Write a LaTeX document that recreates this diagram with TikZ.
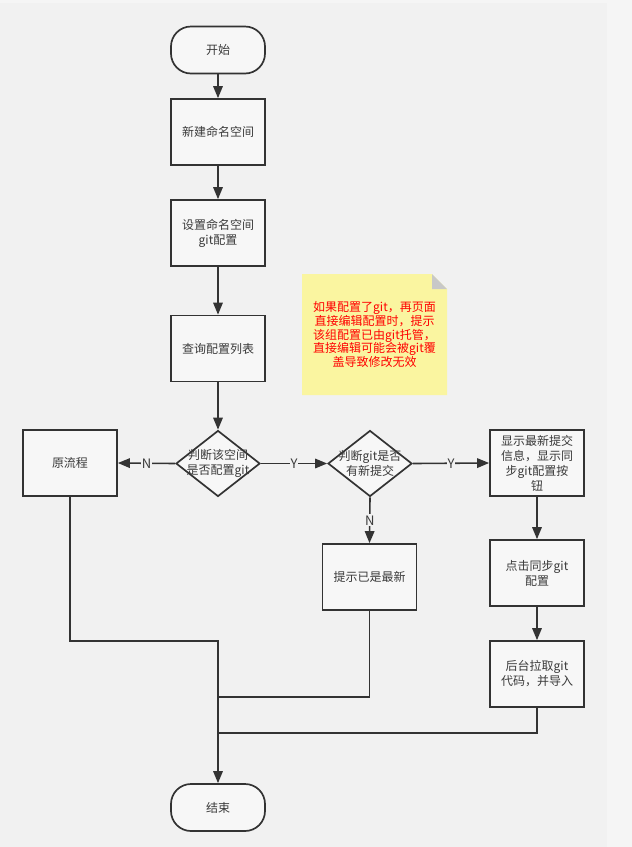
\documentclass[tikz,border=0pt]{standalone}
\usepackage{fontspec}
\newfontfamily\cjk{Noto Sans CJK SC}
\usetikzlibrary{shapes.geometric,arrows.meta}
\definecolor{bgout}{HTML}{F5F5F5}
\definecolor{bgin}{HTML}{F1F1F1}
\definecolor{nodefill}{HTML}{F7F7F7}
\definecolor{linec}{HTML}{333333}
\definecolor{textc}{HTML}{3A3A3A}
\definecolor{notefill}{HTML}{FAF5A0}
\definecolor{foldc}{HTML}{C8C8C8}
\definecolor{notetext}{HTML}{FF0000}
\begin{document}
\begin{tikzpicture}[x=1pt,y=-1pt,
  every node/.style={font=\cjk\fontsize{12}{15}\selectfont, text=textc},
  shapebase/.style={draw=linec, fill=nodefill, line width=1.7pt, inner sep=0pt, align=center},
  procbox/.style={shapebase, minimum width=94pt, minimum height=66pt},
  termbox/.style={shapebase, rounded corners=20pt, minimum width=94pt, minimum height=47pt},
  decision/.style={shapebase, diamond, minimum width=84pt, minimum height=66pt},
  dectext/.style={align=center, inner sep=0pt},
  flow/.style={draw=linec, line width=1.6pt, -{Triangle[length=12pt,width=9.5pt]}},
  joinline/.style={draw=linec, line width=1.6pt},
  edgelabel/.style={fill=bgin, inner sep=1pt, font=\cjk\fontsize{13}{15}\selectfont},
  notestyle/.style={align=center, inner sep=0pt, text=notetext, font=\cjk\fontsize{12}{13.75}\selectfont}
]
\fill[bgout] (0,0) rectangle (632,847);
\fill[bgin] (0,3) rectangle (607,847);
\useasboundingbox (0,0) rectangle (632,847);

% note
\fill[notefill] (302,274) -- (432,274) -- (447,289) -- (447,395) -- (302,395) -- cycle;
\fill[foldc] (432,274) -- (447,289) -- (432,289) -- cycle;
\node[notestyle] (note) at (374.5,334.5) {如果配置了git，再页面\\直接编辑配置时，提示\\该组配置已由git托管，\\直接编辑可能会被git覆\\盖导致修改无效};

% nodes
\node[termbox] (start) at (218,50) {开始};
\node[procbox] (create) at (218,132) {新建命名空间};
\node[procbox] (setgit) at (218,233) {设置命名空间\\git配置};
\node[procbox] (query) at (218,348.5) {查询配置列表};
\node[decision, label={[dectext]center:判断该空间\\是否配置git}] (d1) at (218,463.5) {};
\node[procbox] (orig) at (70,463) {原流程};
\node[decision, label={[dectext]center:判断git是否\\有新提交}] (d2) at (370,463.5) {};
\node[procbox] (show) at (537,463) {显示最新提交\\信息，显示同\\步git配置按\\钮};
\node[procbox] (latest) at (369.5,577) {提示已是最新};
\node[procbox] (sync) at (537,573) {点击同步git\\配置};
\node[procbox] (pull) at (537,674) {后台拉取git\\代码，并导入};
\node[termbox] (finish) at (218,807.5) {结束};

\coordinate (j1) at (218,641);
\coordinate (j2) at (218,697);
\coordinate (j3) at (218,733);

% connectors
\draw[flow] (start.south) -- (create.north);
\draw[flow] (create.south) -- (setgit.north);
\draw[flow] (setgit.south) -- (query.north);
\draw[flow] (query.south) -- (d1.north);
\draw[flow] (d1.west) -- node[edgelabel]{N} (orig.east);
\draw[flow] (d1.east) -- node[edgelabel]{Y} (d2.west);
\draw[flow] (d2.east) -- node[edgelabel]{Y} (show.west);
\draw[flow] (d2.south) -- node[edgelabel]{N} (latest.north);
\draw[flow] (show.south) -- (sync.north);
\draw[flow] (sync.south) -- (pull.north);
\draw[flow] (orig.south) |- (j1) -- (finish.north);
\draw[joinline] (latest.south) |- (j2);
\draw[joinline] (pull.south) |- (j3);
\end{tikzpicture}
\end{document}
